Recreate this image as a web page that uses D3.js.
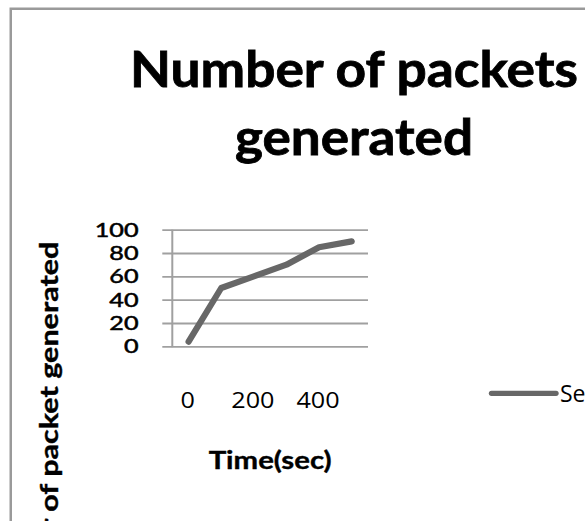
<!DOCTYPE html>
<html><head><meta charset="utf-8">
<script src="https://cdn.jsdelivr.net/npm/d3@7"></script>
<style>html,body{margin:0;padding:0;background:#fff;}svg{display:block;}</style>
</head><body>
<svg id="c" width="585" height="521"></svg>
<script>
const categories = ["0","100","200","300","400","500"];
const seriesValues = [4, 50, 60, 70, 85, 90];
const xTickLabels = ["0","200","400"];
const yTickValues = [0,20,40,60,80,100];
const seriesName = "Series1";
const titleLines = ["Number of packets","generated"];
const xTitle = "Time(sec)";
const yTitle = "Number of packet generated";

const svg = d3.select("#c");
const font = "Lato, 'Open Sans', sans-serif";
const font2 = "'Open Sans', Lato, sans-serif";

// chart frame (cropped at right and bottom)
svg.append("rect").attr("x",10.75).attr("y",8.75).attr("width",700).attr("height",700)
  .attr("fill","none").attr("stroke","#9a9a9a").attr("stroke-width",2.5);

const plot = {left:172.3, right:368, top:229.7, bottom:346.3};
const x = d3.scaleBand().domain(categories).range([plot.left, plot.right]).padding(0);
const y = d3.scaleLinear().domain([0,100]).range([plot.bottom, plot.top]);

// gridlines + y ticks
const yAxis = d3.axisLeft(y).tickValues(yTickValues).tickSize(10).tickFormat("");
const yg = svg.append("g").attr("transform",`translate(${plot.left},0)`).call(yAxis);
yg.select(".domain").remove();
yg.selectAll(".tick line").attr("stroke","#a0a0a0").attr("stroke-width",1.8)
  .attr("x1",-10).attr("x2",plot.right-plot.left);

// vertical axis line
svg.append("line").attr("x1",plot.left).attr("x2",plot.left).attr("y1",plot.top).attr("y2",plot.bottom+0.9)
  .attr("stroke","#a0a0a0").attr("stroke-width",2);

// y tick labels
svg.append("g").selectAll("text").data(yTickValues).join("text")
  .attr("x",138.5).attr("y",d=>y(d)).attr("dy","0.36em")
  .attr("text-anchor","end").attr("font-family",font).attr("font-size",19)
  .attr("fill","#000").attr("stroke","#000").attr("stroke-width",0.5)
  .attr("textLength",d=>String(d).length*14.6).attr("lengthAdjust","spacingAndGlyphs")
  .text(d=>d);

// x tick labels
svg.append("g").selectAll("text").data(xTickLabels).join("text")
  .attr("x",d=>x(d)+x.bandwidth()/2-1).attr("y",408)
  .attr("text-anchor","middle").attr("font-family",font2).attr("font-size",21)
  .attr("fill","#000")
  .attr("textLength",d=>d.length*14.4).attr("lengthAdjust","spacingAndGlyphs")
  .text(d=>d);

// line
const line = d3.line().x((d,i)=>x(categories[i])+x.bandwidth()/2).y(d=>y(d));
svg.append("path").datum(seriesValues).attr("d",line)
  .attr("fill","none").attr("stroke","#676767").attr("stroke-width",6.2)
  .attr("stroke-linejoin","round").attr("stroke-linecap","round");

// title
const tl = [{t:titleLines[0], y:87, w:448},{t:titleLines[1], y:155, w:238}];
svg.append("g").selectAll("text").data(tl).join("text")
  .attr("x",354).attr("y",d=>d.y).attr("text-anchor","middle")
  .attr("font-family",font).attr("font-weight","bold").attr("font-size",50)
  .attr("fill","#000").attr("stroke","#000").attr("stroke-width",0.8)
  .attr("textLength",d=>d.w).attr("lengthAdjust","spacingAndGlyphs")
  .text(d=>d.t);

// x title
svg.append("text").attr("x",(plot.left+plot.right)/2).attr("y",468.5).attr("text-anchor","middle")
  .attr("font-family",font).attr("font-weight","bold").attr("font-size",25)
  .attr("fill","#000").attr("stroke","#000").attr("stroke-width",0.4)
  .attr("textLength",123).attr("lengthAdjust","spacingAndGlyphs")
  .text(xTitle);

// y title (rotated)
svg.append("text").attr("transform","translate(58,241.7) rotate(-90)").attr("text-anchor","end")
  .attr("font-family",font).attr("font-weight","bold").attr("font-size",25)
  .attr("fill","#000").attr("stroke","#000").attr("stroke-width",0.4)
  .attr("textLength",388).attr("lengthAdjust","spacingAndGlyphs")
  .text(yTitle);

// legend
svg.append("line").attr("x1",491.5).attr("x2",556).attr("y1",393.3).attr("y2",393.3)
  .attr("stroke","#676767").attr("stroke-width",5.3).attr("stroke-linecap","round");
svg.append("text").attr("x",560).attr("y",401.5).attr("font-family",font2).attr("font-size",23)
  .attr("fill","#000").text(seriesName);
</script>
</body></html>
